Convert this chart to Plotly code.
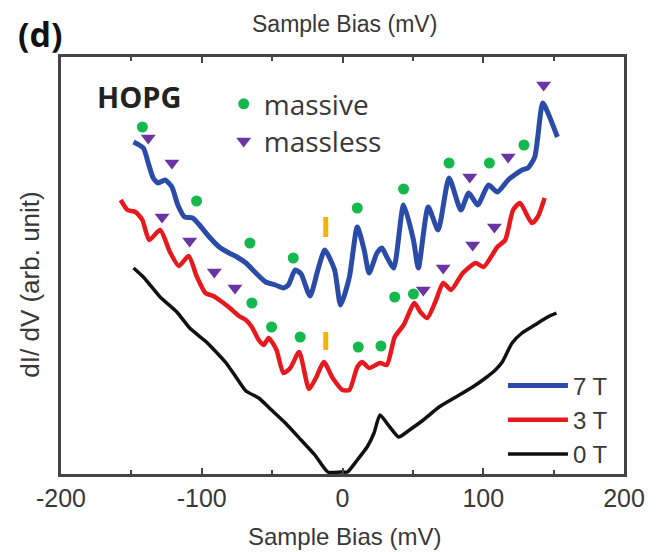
import plotly.graph_objects as go

# ---- data (mV, arb. units) ----
x_7T = [-148.5, -141.5, -138.0, -134.5, -131.0, -126.1, -121.2, -117.0, -112.1, -106.5,
        -101.6, -94.6, -87.6, -80.6, -75.0, -68.6, -61.6, -54.6, -47.6, -42.0,
        -38.5, -33.6, -29.4, -23.1, -17.5, -12.6, -5.6, -1.4, 4.9, 10.5,
        15.4, 18.9, 24.5, 28.0, 31.5, 36.4, 43.4, 50.4, 53.9, 60.9,
        67.9, 75.7, 84.1, 89.7, 96.0, 103.7, 110.0, 117.7, 127.5, 131.7,
        136.6, 142.2, 145.7, 152.7]
y_7T = [332, 326, 311, 296, 291, 294, 287, 269, 257, 256,
        249, 237, 227, 221, 217, 211, 201, 192, 189, 186,
        189, 204, 200, 178, 204, 224, 204, 169, 197, 247,
        224, 201, 221, 226, 217, 206, 269, 234, 206, 267,
        244, 296, 264, 281, 269, 289, 282, 294, 304, 306,
        317, 371, 362, 337]

x_3T = [-157.6, -152.7, -147.1, -142.2, -137.3, -129.6, -122.6, -116.3, -109.3, -103.7,
        -97.4, -91.8, -85.5, -79.2, -73.6, -68.6, -64.4, -59.5, -56.0, -52.5,
        -46.9, -42.0, -37.1, -30.8, -23.8, -18.9, -13.3, -7.0, 0.0, 4.9,
        10.5, 14.0, 18.9, 26.6, 31.5, 37.1, 43.4, 51.1, 55.3, 60.2,
        66.5, 71.5, 77.1, 85.5, 94.6, 100.2, 110.0, 115.6, 121.2, 126.1,
        134.5, 138.7, 143.6]
y_3T = [274, 264, 262, 254, 234, 244, 222, 208, 218, 198,
        181, 178, 172, 165, 158, 154, 147, 134, 129, 136,
        124, 101, 106, 122, 85, 96, 112, 96, 84, 84,
        107, 112, 106, 111, 109, 137, 149, 171, 162, 156,
        174, 191, 184, 201, 211, 207, 227, 234, 264, 271,
        251, 257, 276]

x_0T = [-148.5, -141.5, -129.6, -117.7, -108.6, -96.7, -92.5, -82.7, -75.7, -68.6,
        -59.5, -50.4, -40.6, -29.4, -19.6, -10.5, -1.4, 3.5, 10.5, 17.5,
        22.4, 26.6, 33.6, 39.9, 47.6, 57.4, 68.6, 80.6, 92.5, 101.6,
        108.6, 113.5, 120.5, 127.5, 136.6, 145.7, 152.0]
y_0T = [206, 197, 177, 162, 146, 132, 126, 111, 97, 83,
        76, 64, 51, 34, 19, 2, 2, 2, 14, 27,
        41, 59, 47, 37, 44, 54, 67, 77, 87, 96,
        104, 112, 131, 141, 149, 157, 161]

x_massive = [-142.2, -103.7, -65.8, -35.0, 10.5, 43.4, 75.7, 104.4, 128.9,
             -64.4, -50.4, -30.1, 11.2, 27.3, 37.1, 50.4]
y_massive = [347, 273, 231, 216, 266, 285, 311, 311, 329,
             171, 147, 137, 127, 128, 177, 180]

x_massless = [-138.0, -121.2, -128.2, -108.6, -91.1, -76.4, 57.4, 71.5, 92.5, 107.9,
              90.4, 117.7, 142.9]
y_massless = [336, 311, 257, 233, 202, 186, 184, 206, 229, 247,
              297, 317, 389]

x_mark = [-11.9, -11.9, None, -11.9, -11.9]
y_mark = [237, 257, None, 124, 142]

x_ticks = [-200, -100, 0, 100, 200]
x_ticklabels = ["-200", "-100", "0", "100", "200"]

BLUE = "#2A4CA8"
RED = "#E8191E"
BLACK = "#111111"
GREEN = "#14B84C"
PURPLE = "#6A35A2"
ORANGE = "#F6B400"
AX = "#444444"
TXT = "#383838"

fig = go.Figure()
fig.add_trace(go.Scatter(x=x_7T, y=y_7T, mode="lines", name="7 T", legendgroup="a",
                         line=dict(color=BLUE, width=5, shape="spline", smoothing=0.6)))
fig.add_trace(go.Scatter(x=x_3T, y=y_3T, mode="lines", name="3 T", legendgroup="b",
                         line=dict(color=RED, width=4.5, shape="spline", smoothing=0.6)))
fig.add_trace(go.Scatter(x=x_0T, y=y_0T, mode="lines", name="0 T", legendgroup="c",
                         line=dict(color=BLACK, width=3.5, shape="spline", smoothing=0.5)))
fig.add_trace(go.Scatter(x=x_mark, y=y_mark, mode="lines", showlegend=False,
                         line=dict(color=ORANGE, width=5)))
fig.add_trace(go.Scatter(x=x_massive, y=y_massive, mode="markers", name="massive",
                         legend="legend2",
                         marker=dict(symbol="circle", size=11, color=GREEN)))
fig.add_trace(go.Scatter(x=x_massless, y=y_massless, mode="markers", name="massless",
                         legend="legend3",
                         marker=dict(symbol="triangle-down", size=13, color=PURPLE)))

fig.update_layout(
    width=649, height=544,
    margin=dict(l=53, r=25, t=49, b=78),
    paper_bgcolor="white", plot_bgcolor="white",
    font=dict(family="Liberation Sans, Arial", color=TXT),
    xaxis=dict(range=[-200, 200], tickvals=x_ticks, ticktext=x_ticklabels,
               ticks="inside", ticklen=6, tickwidth=2, tickcolor=AX,
               minor=dict(dtick=50, tick0=0, ticks="inside", ticklen=4, tickwidth=2, tickcolor=AX),
               showline=True, linewidth=2.5, linecolor=AX, mirror="ticks",
               showgrid=False, zeroline=False,
               tickfont=dict(size=25, color=TXT)),
    yaxis=dict(range=[0, 417], showticklabels=False, ticks="",
               showline=True, linewidth=2.5, linecolor=AX, mirror=True,
               showgrid=False, zeroline=False),
    legend=dict(x=0.785, y=-0.006, xanchor="left", yanchor="bottom",
                font=dict(size=24, color=TXT), itemwidth=60,
                tracegroupgap=0, bgcolor="rgba(0,0,0,0)"),
    legend2=dict(x=0.289, y=0.947, xanchor="left", yanchor="top",
                 font=dict(size=28, color=TXT, family="Open Sans"),
                 bgcolor="rgba(0,0,0,0)", itemwidth=30),
    legend3=dict(x=0.289, y=0.858, xanchor="left", yanchor="top",
                 font=dict(size=28, color=TXT, family="Open Sans"),
                 bgcolor="rgba(0,0,0,0)", itemwidth=30),
    showlegend=True,
    annotations=[
        dict(text="Sample Bias (mV)", x=0.504, y=-0.149, xref="paper", yref="paper",
             xanchor="center", yanchor="middle",
             showarrow=False, font=dict(size=24, color=TXT)),
        dict(text="Sample Bias (mV)", x=0.504, y=1.116, xref="paper", yref="paper",
             xanchor="center", yanchor="top",
             showarrow=False, font=dict(size=23, color=TXT)),
        dict(text="dI/ dV (arb. unit)", x=-0.054, y=0.453, xref="paper", yref="paper",
             xanchor="center", yanchor="middle",
             showarrow=False, textangle=-90, font=dict(size=26, color=TXT)),
        dict(text="<b>HOPG</b>", x=0.138, y=0.906, xref="paper", yref="paper",
             xanchor="center", yanchor="middle",
             showarrow=False, font=dict(size=29, color="#222222", family="Open Sans")),
        dict(text="<b>(d)</b>", x=-0.037, y=1.055, xref="paper", yref="paper",
             xanchor="center", yanchor="middle",
             showarrow=False, font=dict(size=34, color="#111111", family="Open Sans")),
    ],
)

fig.write_html("out.html")
